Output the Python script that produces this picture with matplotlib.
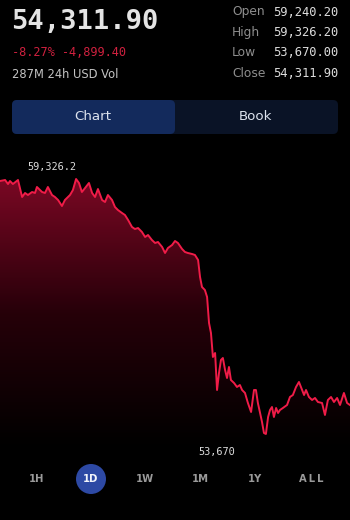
import numpy as np
import matplotlib
matplotlib.use("Agg")
import matplotlib.pyplot as plt
from matplotlib.patches import FancyBboxPatch, Circle
from matplotlib.colors import LinearSegmentedColormap

# ---------------- data ----------------
last_price = "54,311.90"
change_text = "-8.27% -4,899.40"
volume_text = "287M 24h USD Vol"
ohlc_labels = ["Open", "High", "Low", "Close"]
ohlc_values = ["59,240.20", "59,326.20", "53,670.00", "54,311.90"]
tabs = ["Chart", "Book"]
ranges = ["1H", "1D", "1W", "1M", "1Y", "ALL"]
active_range = "1D"
high_label = "59,326.2"
low_label = "53,670"

minutes = [0, 21, 33, 41, 53, 74, 91, 103, 115, 132, 144, 152, 173, 185, 197, 214, 226, 239,
           255, 267, 288, 300, 313, 325, 337, 350, 366, 379, 391, 403, 420, 432, 444, 461, 473,
           485, 502, 514, 527, 543, 555, 568, 584, 597, 609, 625, 638, 650, 667, 679, 691, 708,
           720, 732, 749, 761, 773, 790, 802, 815, 823, 831, 843, 852, 860, 868, 876, 885, 893,
           901, 909, 917, 926, 934, 942, 950, 963, 975, 987, 996, 1008, 1020, 1033, 1045, 1053,
           1061, 1070, 1078, 1086, 1094, 1103, 1111, 1119, 1127, 1136, 1144, 1152, 1164, 1181,
           1193, 1205, 1218, 1230, 1243, 1251, 1259, 1271, 1284, 1296, 1308, 1325, 1337, 1349,
           1362, 1374, 1387, 1399, 1415, 1428, 1440]
prices = [59282, 59304, 59215, 59282, 59215, 59304, 58927, 59016, 58971, 59038, 59016, 59149,
          59038, 59016, 59149, 58971, 58927, 58860, 58727, 58860, 58971, 59082, 59326.2, 59238,
          59038, 59127, 59238, 59016, 58927, 59104, 58860, 58816, 58971, 58860, 58705, 58639,
          58572, 58528, 58417, 58262, 58217, 58239, 58151, 58040, 58084, 57973, 57907, 57929,
          57818, 57685, 57796, 57862, 57951, 57907, 57774, 57707, 57685, 57663, 57641, 57530,
          57153, 56931, 56864, 56709, 56132, 55910, 55378, 55467, 54646, 55023, 55312, 55356,
          55090, 54912, 55157, 54868, 54801, 54713, 54757, 54646, 54580, 54358, 54158, 54646,
          54646, 54358, 54136, 53936, 53692, 53670, 54047, 54203, 54269, 54047, 54247, 54136,
          54203, 54247, 54314, 54491, 54535, 54713, 54824, 54646, 54535, 54646, 54491, 54424,
          54469, 54380, 54358, 54092, 54424, 54491, 54380, 54469, 54314, 54580, 54358, 54311.9]

t = np.array(minutes, dtype=float)
p = np.array(prices, dtype=float)

# ---------------- figure ----------------
W, H = 350, 520
fig = plt.figure(figsize=(W / 100, H / 100), dpi=100, facecolor="black")

# chart axes: pixel rows 150..460, max price at row 179, min at row 434
px_top, px_bot = 150, 460
row_max, row_min = 179, 434
k = (p.max() - p.min()) / (row_min - row_max)
y_top = p.max() + (row_max - px_top) * k
y_bot = p.min() - (px_bot - row_min) * k
ax = fig.add_axes([0, (H - px_bot) / H, 1, (px_bot - px_top) / H])
ax.set_facecolor("black")
ax.set_xlim(t.min(), t.max())
ax.set_ylim(y_bot, y_top)
ax.axis("off")

fill_floor = p.min() - 14 * k
poly = ax.fill_between(t, p, fill_floor, color="none", lw=0)
cmap = LinearSegmentedColormap.from_list(
    "grad", [(0, 0, 0), (0.15, 0.0, 0.035), (0.48, 0.03, 0.14)])
grad = np.linspace(0, 1, 256).reshape(-1, 1)
im = ax.imshow(grad, extent=[t.min(), t.max(), fill_floor, p.max()], origin="lower",
               aspect="auto", cmap=cmap, interpolation="bilinear", zorder=1)
im.set_clip_path(poly.get_paths()[0], transform=ax.transData)
ax.plot(t, p, color="#f01c48", lw=1.4, zorder=3, solid_joinstyle="round",
        clip_on=False)

# ---------------- overlay in pixel coordinates ----------------
ov = fig.add_axes([0, 0, 1, 1], facecolor="none")
ov.set_xlim(0, W)
ov.set_ylim(H, 0)
ov.axis("off")

mono = "DejaVu Sans Mono"
sans = "DejaVu Sans"

ov.text(11, 22, last_price, family=mono, weight="bold", fontsize=19.5,
        color="#e4e4e4", va="center", ha="left")
ov.text(12, 52, change_text, family=mono, fontsize=8.6, color="#d0213f",
        va="center", ha="left")
ov.text(12, 74, volume_text, family=sans, fontsize=8.3, color="#c4c4c4",
        va="center", ha="left")

for i, (lab, val) in enumerate(zip(ohlc_labels, ohlc_values)):
    yy = 12 + i * 20.5
    ov.text(232, yy, lab, family=sans, fontsize=8.8, color="#8e8e8e",
            va="center", ha="left")
    ov.text(338, yy, val, family=mono, fontsize=8.7, color="#dcdcdc",
            va="center", ha="right")

# tab bar
ov.add_patch(FancyBboxPatch((12, 100), 326, 34, boxstyle="round,pad=0,rounding_size=5",
                            fc="#0a1326", ec="none"))
ov.add_patch(FancyBboxPatch((12, 100), 163, 34, boxstyle="round,pad=0,rounding_size=5",
                            fc="#132a5c", ec="none"))
ov.text(93, 117, tabs[0], family=sans, fontsize=9.6, color="#dde3ee",
        va="center", ha="center")
ov.text(256, 117, tabs[1], family=sans, fontsize=9.6, color="#dde3ee",
        va="center", ha="center")

# high / low labels
ov.text(27, 167, high_label, family=mono, fontsize=7.4, color="#dcdcdc",
        va="center", ha="left")
ov.text(198, 452, low_label, family=mono, fontsize=7.4, color="#dcdcdc",
        va="center", ha="left")

# range selector
range_x = [36, 91, 145, 200, 255, 311]
for lab, xx in zip(ranges, range_x):
    if lab == active_range:
        ov.add_patch(Circle((xx, 479), 15, fc="#2d49a4", ec="none"))
        col = "#f2f4fa"
    else:
        col = "#9a9a9a"
    txt = "\u2009".join(lab) if lab == "ALL" else lab
    ov.text(xx, 479.5, txt, family=sans, weight="bold", fontsize=7.2, color=col,
            va="center", ha="center")

fig.savefig("out.png", dpi=100, facecolor="black")
